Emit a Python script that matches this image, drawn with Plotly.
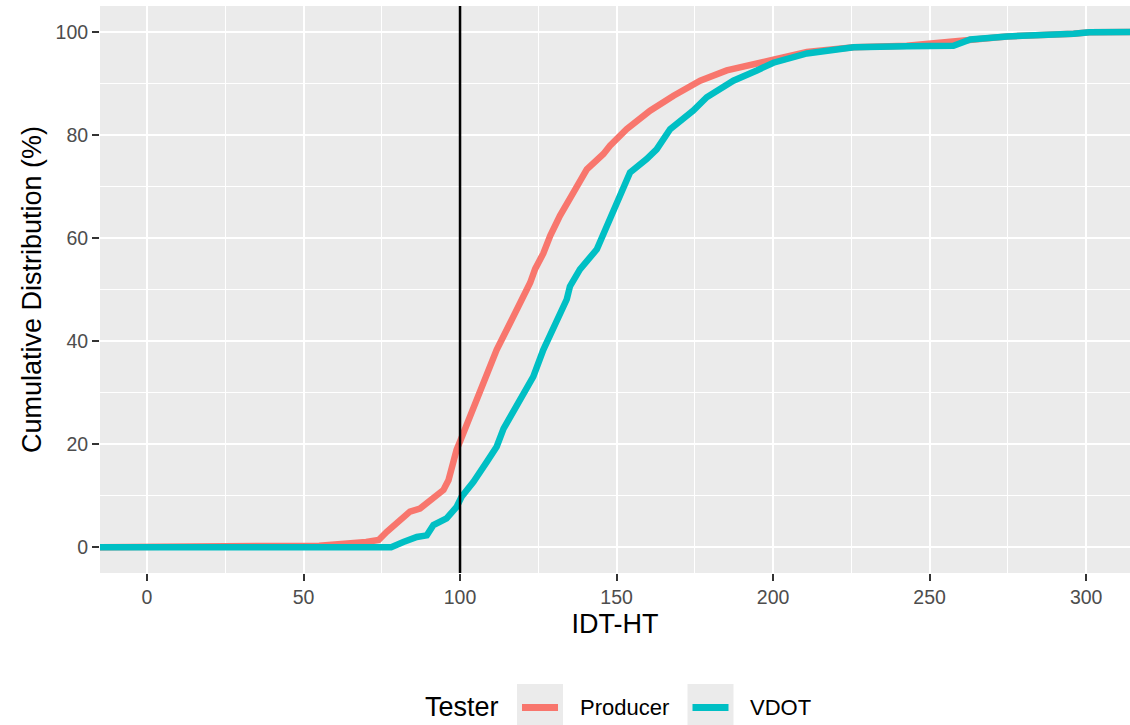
import plotly.graph_objects as go

# ---------------- data ----------------
series_names = ["Producer", "VDOT"]
legend_title = "Tester"
x_title = "IDT-HT"
y_title = "Cumulative Distribution (%)"

producer_x = [-20, 0, 55, 70, 74, 76.6, 79.8, 84, 87.2, 91.5, 94.7, 96.3, 97.3, 98.9, 100,
              103.2, 107.5, 111.7, 116, 119.2, 122.4, 124, 126.6, 128.8, 131.9, 136.2,
              140.5, 145.8, 147.9, 153.2, 160.7, 168.2, 176.7, 185.2, 194.8, 200.1, 210.8,
              225.7, 242.7, 252, 257.6, 274.7, 296, 301, 320]
producer_y = [0, 0, 0.3, 1.0, 1.4, 3.0, 4.6, 6.9, 7.5, 9.5, 11.1, 13.0, 15.6, 18.9, 20.5,
              25.4, 31.8, 38.3, 43.5, 47.4, 51.3, 54.0, 57.0, 60.4, 64.3, 68.8,
              73.3, 76.3, 77.9, 81.1, 84.7, 87.6, 90.5, 92.5, 94.0, 94.6, 96.1,
              97.0, 97.3, 97.8, 98.3, 99.1, 99.6, 99.9, 100]

vdot_x = [-20, 0, 78, 81.9, 86.2, 89.4, 91.5, 95.7, 98.9, 100.5, 104.3, 108.5, 111.7, 113.9,
          119.2, 123.4, 126.6, 129.8, 130.9, 134.1, 135.1, 138.3, 143.7, 147.9, 151.1,
          154.3, 159.6, 162.8, 167.1, 174.5, 178.8, 187.3, 194.8, 200.1, 210.8, 225.7,
          242.7, 257.6, 263, 274.7, 296, 301, 320]
vdot_y = [0, 0, 0, 1.0, 2.0, 2.3, 4.3, 5.6, 7.8, 9.8, 12.7, 16.5, 19.5, 23.0,
          28.6, 33.1, 38.3, 42.2, 43.5, 48.1, 50.6, 53.9, 57.8, 63.6, 68.1,
          72.7, 75.3, 77.2, 81.1, 84.7, 87.3, 90.5, 92.5, 94.0, 95.8, 97.0,
          97.2, 97.3, 98.5, 99.1, 99.6, 99.9, 100]

x_tick_vals = [0, 50, 100, 150, 200, 250, 300]
y_tick_vals = [0, 20, 40, 60, 80, 100]
threshold_x = 100

# ---------------- styling ----------------
W, H = 1130, 725
ML, MR, MT, MB = 100, 0, 6, 152
PW, PH = W - ML - MR, H - MT - MB
colors = ["#F8766D", "#00BFC4"]
FONT = "Liberation Sans, Arial, sans-serif"


def px_x(px):
    return (px - ML) / PW


def px_y(py):
    return (H - MB - py) / PH


fig = go.Figure()
for name, xs, ys, col in zip(series_names, [producer_x, vdot_x], [producer_y, vdot_y], colors):
    fig.add_trace(go.Scatter(x=xs, y=ys, mode="lines", name=name,
                             line=dict(color=col, width=6.5), showlegend=False))

fig.add_vline(x=threshold_x, line_color="black", line_width=2.5, layer="above")

axis_common = dict(
    showgrid=True, gridcolor="white", gridwidth=2,
    zeroline=False, showline=False,
    ticks="outside", ticklen=7, tickwidth=2, tickcolor="#333333",
    tickfont=dict(family=FONT, size=19.5, color="#4D4D4D"),
    automargin=False,
)

fig.update_xaxes(range=[-15, 314], tickvals=x_tick_vals, **axis_common,
                 minor=dict(dtick=25, tick0=25, showgrid=True, gridcolor="white",
                            gridwidth=1, ticks=""),
                 title=dict(text=x_title, font=dict(family=FONT, size=27, color="black"),
                            standoff=6))
fig.update_yaxes(range=[-5, 105], tickvals=y_tick_vals, **axis_common,
                 minor=dict(dtick=20, tick0=10, showgrid=True, gridcolor="white",
                            gridwidth=1, ticks=""),
                 title=dict(text=y_title, font=dict(family=FONT, size=27, color="black"),
                            standoff=6))

# ---------------- custom ggplot-style legend ----------------
shapes = []
annotations = []
annotations.append(dict(x=px_x(423), y=px_y(707), xref="paper", yref="paper",
                        text=legend_title, showarrow=False, xanchor="left", yanchor="middle",
                        font=dict(family=FONT, size=27, color="black")))
key_lefts = [517, 687.5]
label_lefts = [578, 748]
for name, col, kl, ll in zip(series_names, colors, key_lefts, label_lefts):
    shapes.append(dict(type="rect", xref="paper", yref="paper",
                       x0=px_x(kl), x1=px_x(kl + 46), y0=px_y(730), y1=px_y(684),
                       fillcolor="#EBEBEB", line=dict(width=0), layer="below"))
    shapes.append(dict(type="line", xref="paper", yref="paper",
                       x0=px_x(kl + 5), x1=px_x(kl + 41), y0=px_y(707.5), y1=px_y(707.5),
                       line=dict(color=col, width=7)))
    annotations.append(dict(x=px_x(ll), y=px_y(707), xref="paper", yref="paper",
                            text=name, showarrow=False, xanchor="left", yanchor="middle",
                            font=dict(family=FONT, size=22, color="black")))

fig.update_layout(
    width=W, height=H, autosize=False,
    margin=dict(l=ML, r=MR, t=MT, b=MB),
    paper_bgcolor="white", plot_bgcolor="#EBEBEB",
    shapes=list(fig.layout.shapes) + shapes,
    annotations=annotations,
    showlegend=False,
)

fig.write_html("out.html")
